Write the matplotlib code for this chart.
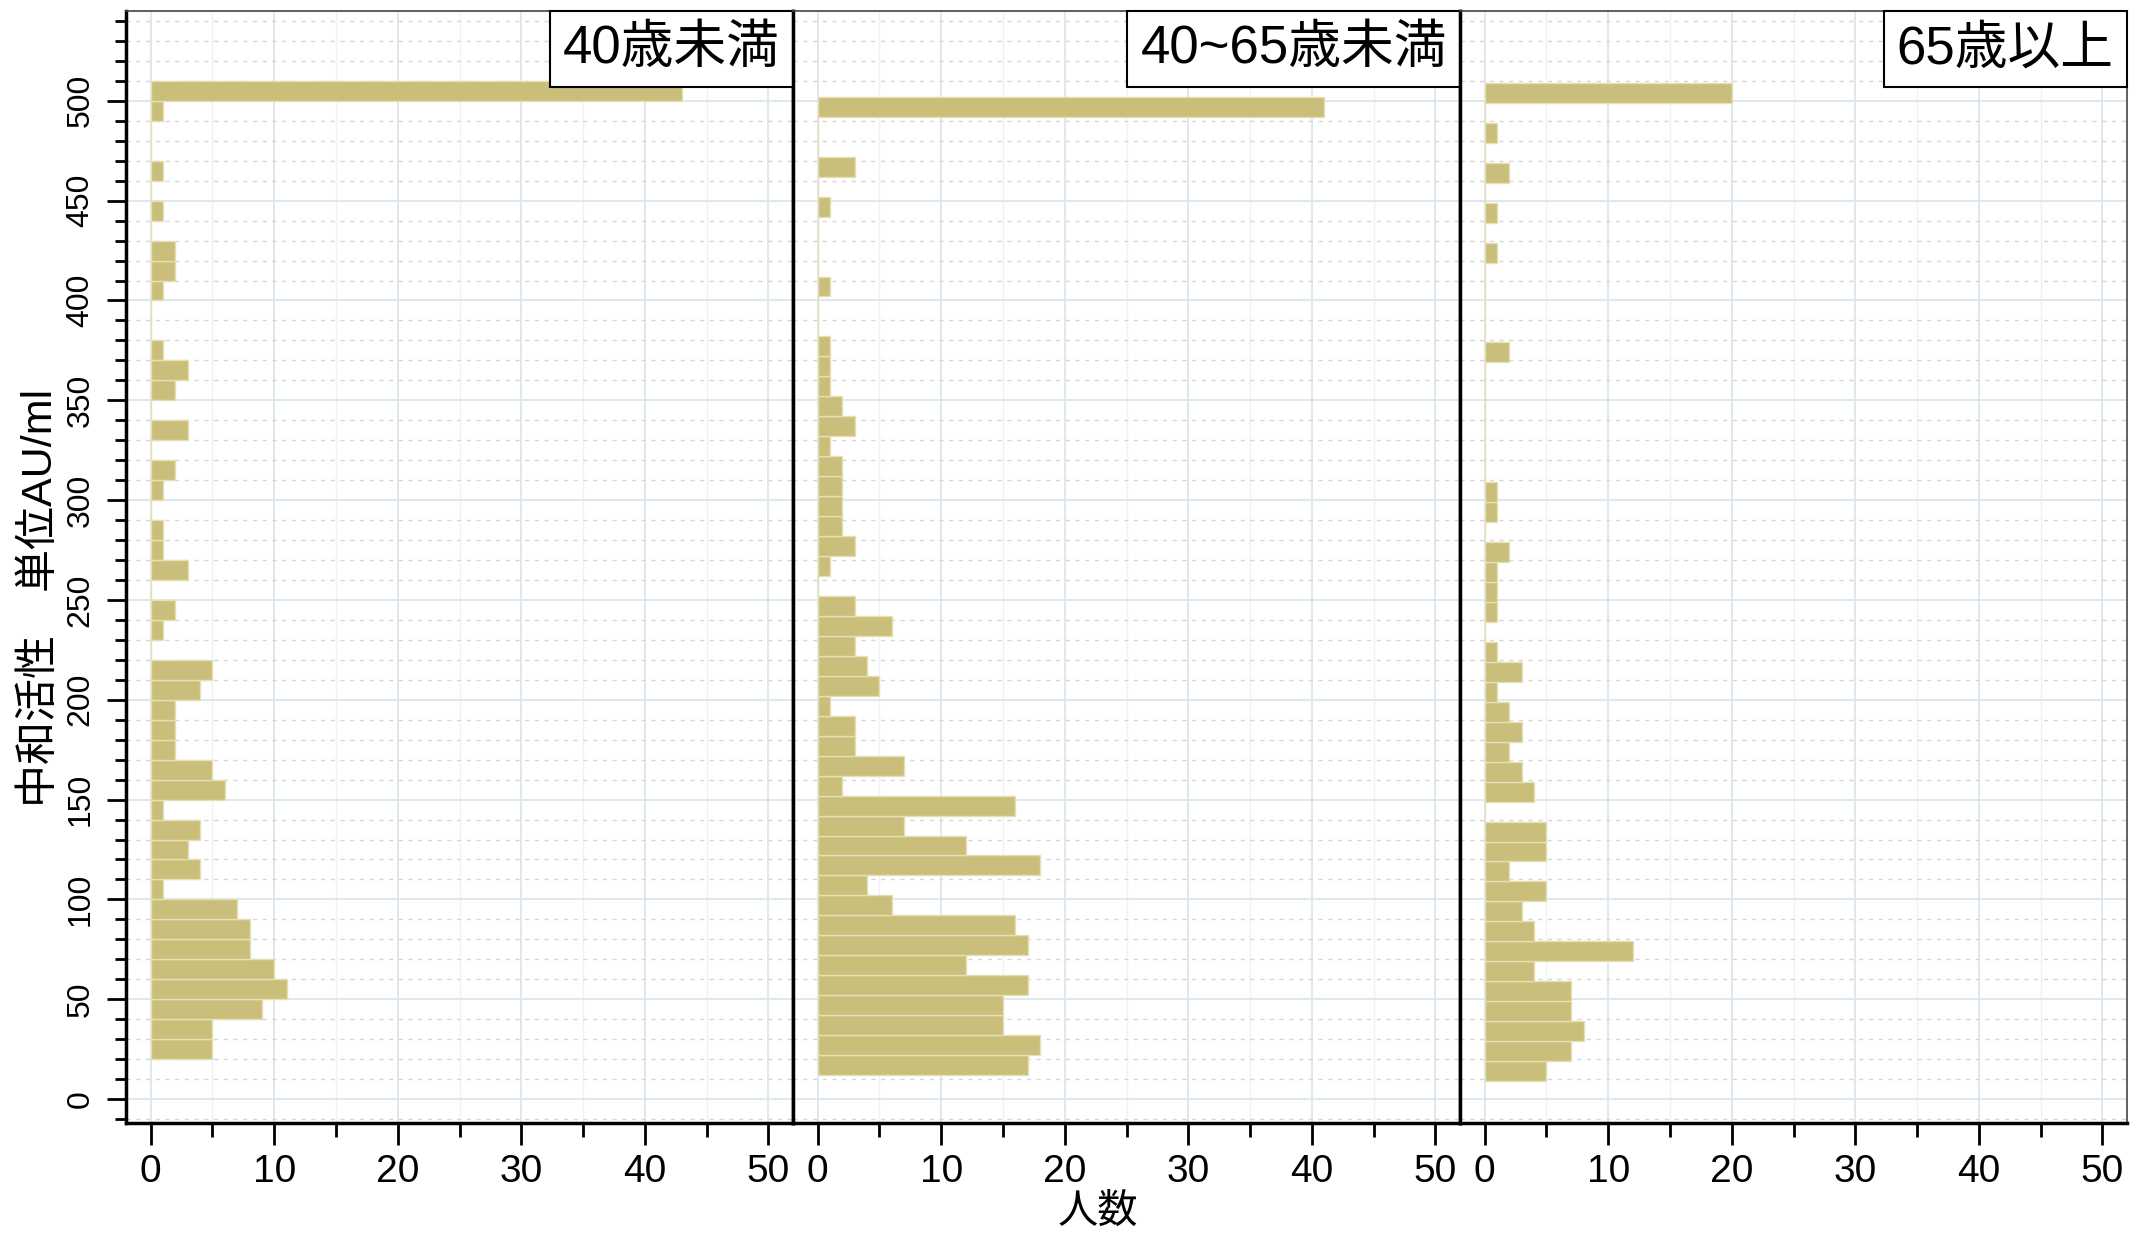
import numpy as np
import matplotlib
matplotlib.use("Agg")
import matplotlib.pyplot as plt
from matplotlib.offsetbox import AnchoredText
from matplotlib.ticker import MultipleLocator

plt.rcParams["font.family"] = ["Liberation Sans", "Noto Sans CJK JP", "DejaVu Sans"]

# --- data: histogram counts per age group (bin width 10 AU/ml) ---
group_labels = ["40歳未満", "40~65歳未満", "65歳以上"]
bin_starts = [20, 12, 9]
bin_width = 10

counts_under40 = [5, 5, 9, 11, 10, 8, 8, 7, 1, 4,
                  3, 4, 1, 6, 5, 2, 2, 2, 4, 5,
                  0, 1, 2, 0, 3, 1, 1, 0, 1, 2,
                  0, 3, 0, 2, 3, 1, 0, 0, 1, 2,
                  2, 0, 1, 0, 1, 0, 0, 1, 43]
counts_40to65 = [17, 18, 15, 15, 17, 12, 17, 16, 6, 4,
                 18, 12, 7, 16, 2, 7, 3, 3, 1, 5,
                 4, 3, 6, 3, 0, 1, 3, 2, 2, 2,
                 2, 1, 3, 2, 1, 1, 1, 0, 0, 1,
                 0, 0, 0, 1, 0, 3, 0, 0, 41]
counts_over65 = [5, 7, 8, 7, 7, 4, 12, 4, 3, 5,
                 2, 5, 5, 0, 4, 3, 2, 3, 2, 1,
                 3, 1, 0, 1, 1, 1, 2, 0, 1, 1,
                 0, 0, 0, 0, 0, 0, 2, 0, 0, 0,
                 0, 1, 0, 1, 0, 2, 0, 1, 0, 20]
all_counts = [counts_under40, counts_40to65, counts_over65]

x_ticks = [0, 10, 20, 30, 40, 50]
y_ticks = list(range(0, 501, 50))

bar_color = "#c9bf7a"
edge_color = "#e6dfb4"

W, H = 2131, 1236
fig = plt.figure(figsize=(W / 100, H / 100), dpi=100)

left, right, top, bottom = 126, 2127, 11, 1123
panel_w = (right - left) / 3

for i, (label, start, counts) in enumerate(zip(group_labels, bin_starts, all_counts)):
    ax = fig.add_axes([(left + i * panel_w) / W, 1 - bottom / H, panel_w / W, (bottom - top) / H])
    ys = start + bin_width * np.arange(len(counts))
    ax.barh(ys, counts, height=bin_width, align="edge", color=bar_color,
            edgecolor=edge_color, linewidth=1.0, zorder=3)

    ax.set_xlim(-2, 52)
    ax.set_ylim(-12, 545)
    ax.set_xticks(x_ticks)
    ax.xaxis.set_minor_locator(MultipleLocator(5))
    ax.set_yticks(y_ticks)
    ax.yaxis.set_minor_locator(MultipleLocator(10))

    ax.grid(which="major", axis="both", color="#dbe7ee", linewidth=1.3, zorder=0)
    ax.grid(which="minor", axis="y", color="#d6d6d6", linewidth=1.0, linestyle=(0, (3, 4)), zorder=0)
    ax.grid(which="minor", axis="x", color="#eef2f5", linewidth=1.0, zorder=0)
    ax.set_axisbelow(True)

    ax.tick_params(axis="x", which="major", length=16, width=2, labelsize=28, pad=6)
    ax.tick_params(axis="x", which="minor", length=10, width=2)
    if i == 0:
        ax.tick_params(axis="y", which="major", length=14, width=2, labelsize=23, pad=8)
        ax.tick_params(axis="y", which="minor", length=8, width=2)
        for t in ax.get_yticklabels():
            t.set_rotation(90)
            t.set_va("center")
    else:
        ax.tick_params(axis="y", which="both", length=0, labelleft=False)

    for side in ["left", "bottom"]:
        ax.spines[side].set_linewidth(2.5)
        ax.spines[side].set_color("black")
    ax.spines["top"].set_linewidth(1.2)
    ax.spines["top"].set_color("#444444")
    ax.spines["right"].set_linewidth(2.5 if i < 2 else 1.2)
    ax.spines["right"].set_color("black" if i < 2 else "#444444")

    box = AnchoredText(label, loc="upper right", pad=0.25, borderpad=0,
                       prop=dict(size=38))
    box.patch.set_boxstyle("square,pad=0")
    box.patch.set_edgecolor("black")
    box.patch.set_linewidth(1.5)
    ax.add_artist(box)

fig.text(41 / W, 1 - 598 / H, "中和活性　単位AU/ml", rotation=90, ha="center", va="center", fontsize=31)
fig.text(1098 / W, 1 - 1212 / H, "人数", ha="center", va="center", fontsize=29)

fig.savefig("out.png", dpi=100)
